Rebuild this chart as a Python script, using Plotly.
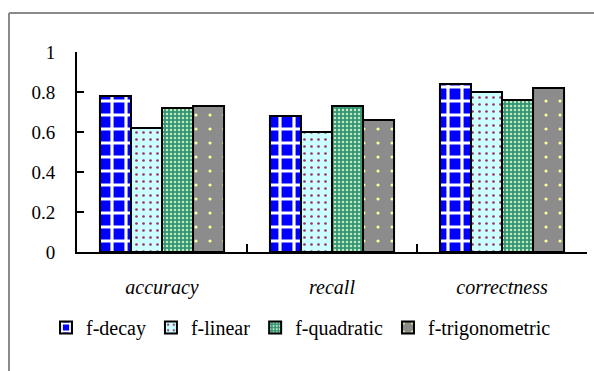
import plotly.graph_objects as go

categories = ["accuracy", "recall", "correctness"]
f_decay = [0.78, 0.68, 0.84]
f_linear = [0.62, 0.60, 0.80]
f_quadratic = [0.72, 0.73, 0.76]
f_trigonometric = [0.73, 0.66, 0.82]
y_ticks = [0, 0.2, 0.4, 0.6, 0.8, 1]
y_tick_labels = ["0", "0.2", "0.4", "0.6", "0.8", "1"]

W, H = 594, 371
ML, MR, MT, MB = 77, 7, 52, 119
PW, PH = W - ML - MR, H - MT - MB

def px_x(px):
    return (px - ML) / PW

def px_y(py):
    return (H - MB - py) / PH

serif = "Liberation Serif"

series = [
    ("f-decay", f_decay, dict(shape="+", bgcolor="#0000ff", fgcolor="#ffffff", size=14, solidity=0.4)),
    ("f-linear", f_linear, dict(shape=".", bgcolor="#ccffff", fgcolor="#993366", size=7, solidity=0.12)),
    ("f-quadratic", f_quadratic, dict(shape=".", bgcolor="#329479", fgcolor="#c8ecb8", size=4, solidity=0.3)),
    ("f-trigonometric", f_trigonometric, dict(shape=".", bgcolor="#8c8c8c", fgcolor="#ffff99", size=14, solidity=0.04)),
]

fig = go.Figure()
for name, vals, pat in series:
    fig.add_trace(go.Bar(
        name=name,
        x=categories,
        y=vals,
        marker=dict(
            color=pat["bgcolor"],
            line=dict(color="black", width=2),
            pattern=dict(shape=pat["shape"], bgcolor=pat["bgcolor"], fgcolor=pat["fgcolor"],
                         size=pat["size"], solidity=pat["solidity"], fillmode="replace"),
        ),
    ))

# outer frame (top and left edges)
frame = dict(color="#8a8a8a", width=2)
fig.add_shape(type="line", xref="paper", yref="paper",
              x0=px_x(9), y0=px_y(13), x1=px_x(W + 10), y1=px_y(13), line=frame)
fig.add_shape(type="line", xref="paper", yref="paper",
              x0=px_x(9), y0=px_y(13), x1=px_x(9), y1=px_y(H + 10), line=frame)

fig.update_layout(
    width=W, height=H,
    margin=dict(l=ML, r=MR, t=MT, b=MB),
    paper_bgcolor="white", plot_bgcolor="white",
    barmode="group", bargap=0.27, bargroupgap=0,
    font=dict(family=serif, size=20, color="black"),
    showlegend=True,
    legend=dict(orientation="h", x=px_x(46), xanchor="left", y=px_y(308), yanchor="top",
                font=dict(family=serif, size=20), bgcolor="rgba(0,0,0,0)"),
)
fig.update_xaxes(
    type="category", tickson="boundaries", ticks="inside", ticklen=8, tickwidth=2,
    tickcolor="black", showline=True, linecolor="black", linewidth=2,
    showgrid=False, zeroline=False, ticklabelstandoff=16,
    tickfont=dict(family=serif, size=20, style="italic"),
)
fig.update_yaxes(
    range=[0, 1], tickvals=y_ticks, ticktext=y_tick_labels,
    ticks="inside", ticklen=7, tickwidth=2, tickcolor="black",
    showline=True, linecolor="black", linewidth=2,
    showgrid=False, zeroline=False, ticklabelstandoff=16,
    tickfont=dict(family=serif, size=19),
)

fig.write_html("out.html")
